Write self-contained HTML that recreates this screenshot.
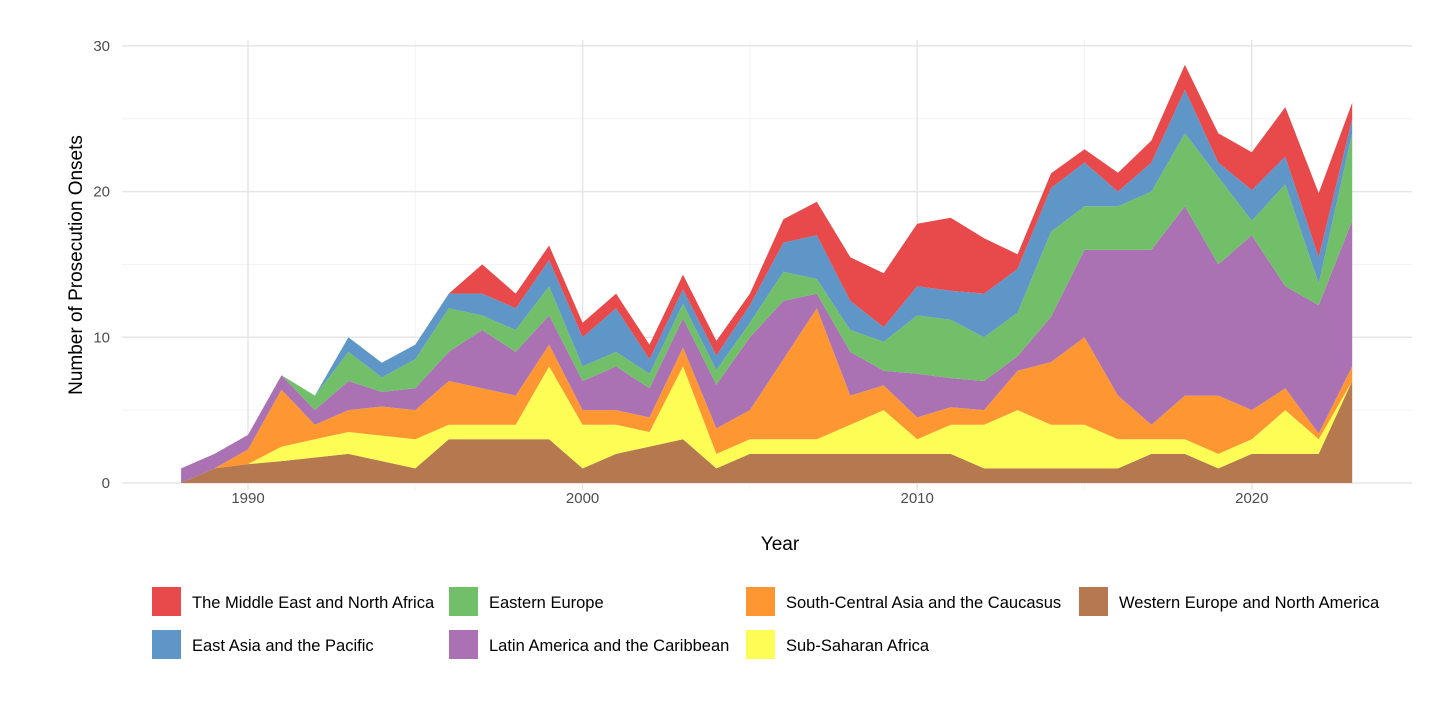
<!DOCTYPE html>
<html><head><meta charset="utf-8"><style>
body{margin:0;background:#fff;font-family:"Liberation Sans",sans-serif;}
</style></head><body>
<svg id="chart" width="1456" height="710" xmlns="http://www.w3.org/2000/svg">
<g id="grid"></g><g id="areas"></g><g id="axes"></g><g id="legend"></g>
</svg>
<script>
const years=[1988,1989,1990,1991,1992,1993,1994,1995,1996,1997,1998,1999,2000,2001,2002,2003,2004,2005,2006,2007,2008,2009,2010,2011,2012,2013,2014,2015,2016,2017,2018,2019,2020,2021,2022,2023];
const westernEurope=[0,1,1.3,1.5,1.75,2,1.5,1,3,3,3,3,1,2,2.5,3,1,2,2,2,2,2,2,2,1,1,1,1,1,2,2,1,2,2,2,7];
const subSaharan=[0,0,0,1,1.25,1.5,1.75,2,1,1,1,5,3,2,1,5,1,1,1,1,2,3,1,2,3,4,3,3,2,1,1,1,1,3,1,0];
const southCentralAsia=[0,0,1,3.9,1,1.5,2,2,3,2.5,2,1.5,1,1,1,1.3,1.75,2,5.5,9,2,1.7,1.5,1.2,1,2.7,4.3,6,3,1,3,4,2,1.5,0.4,1];
const latinAmerica=[1,1,1,1,1,2,1,1.5,2,4,3,2,2,3,2,2,3,5,4,1,3,1,3,2,2,1,3.1,6,10,12,13,9,12,7,8.8,10];
const easternEurope=[0,0,0,0,1,2,1,2,3,1,1.5,2,1,1,1,1,1,1,2,1,1.5,2,4,4,3,3,5.85,3,3,4,5,6,1,7,1.5,6];
const eastAsia=[0,0,0,0,0,1,1,1,1,1.5,1.5,1.8,2,3,1,1,1,1.2,2,3,2,1,2,2,3,3,3,3,1,2,3,1,2.1,1.9,1.8,1];
const middleEast=[0,0,0,0,0,0,0,0,0,2,1,1,1,1,1,1,1,0.8,1.6,2.3,3,3.7,4.3,5,3.8,1,1,0.9,1.3,1.5,1.7,2,2.6,3.4,4.4,1.1];
const yTicks=[0,10,20,30];
const xTicks=[1990,2000,2010,2020];
const seriesNames=["Western Europe and North America","Sub-Saharan Africa","South-Central Asia and the Caucasus","Latin America and the Caribbean","Eastern Europe","East Asia and the Pacific","The Middle East and North Africa"];
const seriesData=[westernEurope,subSaharan,southCentralAsia,latinAmerica,easternEurope,eastAsia,middleEast];
const colors=["#b5784f","#fefd55","#fe9732","#aa72b3","#72bf6a","#5d96c7","#e84a4b"];
const NS="http://www.w3.org/2000/svg";
const X=y=>248+(y-1990)*33.46;
const Y=v=>483-v*14.57;
function mk(tag,attrs,parent){const e=document.createElementNS(NS,tag);for(const k in attrs)e.setAttribute(k,attrs[k]);parent.appendChild(e);return e;}
const grid=document.getElementById('grid'),areas=document.getElementById('areas'),axes=document.getElementById('axes'),legend=document.getElementById('legend');
for(let v=5;v<35;v+=10){const l=mk('line',{x1:122,x2:1412,y1:Y(v),y2:Y(v),stroke:'#f3f3f3','stroke-width':1},grid);

}
for(let yr=1995;yr<=2015;yr+=10){const l=mk('line',{x1:X(yr),x2:X(yr),y1:40,y2:490,stroke:'#f3f3f3','stroke-width':1},grid);

}
yTicks.forEach(v=>{const l=mk('line',{x1:122,x2:1412,y1:Y(v),y2:Y(v),stroke:'#e6e6e6','stroke-width':1.5},grid);


const t=mk('text',{x:110,y:Y(v)+5,'text-anchor':'end','font-size':15,fill:'#4d4d4d'},axes);t.textContent=v;

});
xTicks.forEach(v=>{const l=mk('line',{x1:X(v),x2:X(v),y1:40,y2:490,stroke:'#e6e6e6','stroke-width':1.5},grid);


const t=mk('text',{x:X(v),y:503,'text-anchor':'middle','font-size':15,fill:'#4d4d4d'},axes);t.textContent=v;

});
let base=years.map(()=>0);
seriesData.forEach((s,i)=>{
  const top=base.map((b,j)=>b+s[j]);
  let d='';
  years.forEach((yr,j)=>{d+=(j?'L':'M')+X(yr).toFixed(1)+','+Y(top[j]).toFixed(1);});
  for(let j=years.length-1;j>=0;j--)d+='L'+X(years[j]).toFixed(1)+','+Y(base[j]).toFixed(1);
  d+='Z';
  const p=mk('path',{d:d,fill:colors[i]},areas);
  
  
  base=top;
});
const yt=mk('text',{x:0,y:0,transform:'translate(82,265) rotate(-90)','text-anchor':'middle','font-size':19,fill:'#000'},axes);
yt.textContent='Number of Prosecution Onsets';


const xt=mk('text',{x:780,y:550,'text-anchor':'middle','font-size':19,fill:'#000'},axes);
xt.textContent='Year';


const legItems=[[6,152,587],[4,449,587],[2,746,587],[0,1079,587],[5,152,630],[3,449,630],[1,746,630]];
legItems.forEach(it=>{
  const g=mk('g',{},legend);
  
  
  const r=mk('rect',{x:it[1],y:it[2],width:29,height:29,fill:colors[it[0]]},g);
  
  
  const t=mk('text',{x:it[1]+40,y:it[2]+21,'font-size':16.5,fill:'#000'},g);
  t.textContent=seriesNames[it[0]];
  
  
});
</script>
</body></html>
